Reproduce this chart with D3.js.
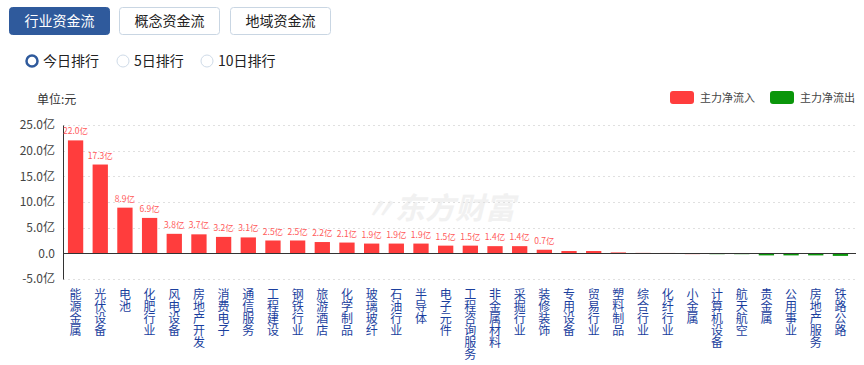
<!DOCTYPE html>
<html>
<head>
<meta charset="utf-8">
<script src="https://cdn.jsdelivr.net/npm/d3@7"></script>
<style>
  body { margin: 0; background: #fff; font-family: "Microsoft YaHei", "Noto Sans CJK SC", sans-serif; }
  svg text { font-family: "Noto Sans CJK SC", sans-serif; }
</style>
</head>
<body>
<div id="chart"></div>
<script>
// sector names and main-force net flow (亿元)
const categories = ["能源金属", "光伏设备", "电池", "化肥行业", "风电设备", "房地产开发", "消费电子", "通信服务",
  "工程建设", "钢铁行业", "旅游酒店", "化学制品", "玻璃玻纤", "石油行业", "半导体", "电子元件", "工程咨询服务",
  "非金属材料", "采掘行业", "装修装饰", "专用设备", "贸易行业", "塑料制品", "综合行业", "化纤行业", "小金属",
  "计算机设备", "航天航空", "贵金属", "公用事业", "房地产服务", "铁路公路"];
const values = [22.0, 17.3, 8.9, 6.9, 3.8, 3.7, 3.2, 3.1, 2.5, 2.5, 2.2, 2.1, 1.9, 1.9, 1.9, 1.5, 1.5, 1.4, 1.4, 0.7,
  0.45, 0.45, 0.25, 0.1, 0.08, 0.02, -0.02, -0.05, -0.4, -0.4, -0.4, -0.5];
const yTicks = [-5, 0, 5, 10, 15, 20, 25];
const tabs = ["行业资金流", "概念资金流", "地域资金流"];
const rankings = ["今日排行", "5日排行", "10日排行"];
const legendItems = ["主力净流入", "主力净流出"];

const width = 864, height = 365;
const red = "#ff3d3d", green = "#0a960a";

const svg = d3.select("#chart").append("svg")
    .attr("width", width)
    .attr("height", height);

// Tabs
const tabX = [9, 119, 230];
tabs.forEach(function(t, i) {
  const g = svg.append("g").attr("transform", "translate(" + tabX[i] + ",7)");
  g.append("rect")
    .attr("x", 0.5).attr("y", 0.5)
    .attr("width", 100).attr("height", 27)
    .attr("rx", 3)
    .attr("fill", i === 0 ? "#2f5a9c" : "#fff")
    .attr("stroke", i === 0 ? "#2f5a9c" : "#c9d6e3");
  g.append("text")
    .attr("x", 50.5).attr("y", 19)
    .attr("text-anchor", "middle")
    .style("font-size", "14px")
    .attr("fill", i === 0 ? "#fff" : "#222")
    .text(t);
});

// Radio buttons
const radioX = [32, 123, 207];
rankings.forEach(function(r, i) {
  if (i === 0) {
    svg.append("circle").attr("cx", radioX[i]).attr("cy", 61).attr("r", 5.5)
      .attr("fill", "#fff").attr("stroke", "#2f5a9c").attr("stroke-width", 2.5);
  } else {
    svg.append("circle").attr("cx", radioX[i]).attr("cy", 61).attr("r", 6)
      .attr("fill", "#fff").attr("stroke", "#cfdbe8").attr("stroke-width", 1);
  }
  svg.append("text")
    .attr("x", radioX[i] + 11).attr("y", 66)
    .style("font-size", "14px")
    .attr("fill", "#222")
    .text(r);
});

// Chart area
const margin = { left: 63, right: 11, top: 125, bottom: 86 };
const x = d3.scaleBand()
    .domain(categories)
    .range([margin.left, width - margin.right])
    .paddingInner(0.38)
    .paddingOuter(0.2);
const y = d3.scaleLinear()
    .domain([-5, 25])
    .range([279, 125]);

// Watermark
svg.append("text")
  .attr("x", 440).attr("y", 219)
  .attr("text-anchor", "middle")
  .style("font-size", "30px")
  .style("font-weight", "bold")
  .style("font-style", "italic")
  .attr("fill", "#f1f1f1")
  .text("〃东方财富");

// Grid
svg.append("g")
  .selectAll("line")
  .data(yTicks.filter(d => d !== 0))
  .enter().append("line")
    .attr("x1", margin.left).attr("x2", width - 8)
    .attr("y1", d => Math.round(y(d)) + 0.5)
    .attr("y2", d => Math.round(y(d)) + 0.5)
    .attr("stroke", "#e0e0e0")
    .attr("stroke-dasharray", "2,3");

// Y axis
const yAxis = svg.append("g")
  .attr("transform", "translate(" + margin.left + ",0)")
  .call(d3.axisLeft(y).tickValues(yTicks).tickSize(0).tickPadding(8)
    .tickFormat(d => d === 0 ? "0.0" : d.toFixed(1) + "亿"));
yAxis.select(".domain").attr("stroke", "#333");
yAxis.selectAll("text").style("font-size", "12px").attr("fill", "#444");

svg.append("text")
  .attr("x", 37).attr("y", 104)
  .style("font-size", "12px")
  .attr("fill", "#333")
  .text("单位:元");

// Bars
svg.append("g")
  .selectAll("rect")
  .data(values)
  .enter().append("rect")
    .attr("x", (d, i) => x(categories[i]))
    .attr("y", d => y(Math.max(d, 0)))
    .attr("width", x.bandwidth())
    .attr("height", d => Math.max(Math.abs(y(d) - y(0)), 1))
    .attr("fill", d => d >= 0 ? red : green)
    .attr("opacity", d => Math.abs(d) < 0.3 ? 0.6 : 1);

// Zero line
svg.append("line")
  .attr("x1", margin.left).attr("x2", width - 8)
  .attr("y1", Math.round(y(0)) + 0.5).attr("y2", Math.round(y(0)) + 0.5)
  .attr("stroke", "#333");

// Value labels
svg.append("g")
  .selectAll("text")
  .data(values.slice(0, 20))
  .enter().append("text")
    .attr("x", (d, i) => x(categories[i]) + x.bandwidth() / 2)
    .attr("y", d => y(d) - 6)
    .attr("text-anchor", "middle")
    .style("font-size", "8.5px")
    .attr("fill", "#ff5a5a")
    .text(d => d.toFixed(1) + "亿");

// Category labels (vertical text)
svg.append("g")
  .selectAll("text")
  .data(categories)
  .enter().append("text")
    .attr("x", d => x(d) + x.bandwidth() / 2)
    .attr("y", 288)
    .style("writing-mode", "vertical-rl")
    .style("font-size", "12px")
    .attr("fill", "#1b3f9e")
    .text(d => d);

// Legend
const legX = [670, 770];
legendItems.forEach(function(l, i) {
  svg.append("rect")
    .attr("x", legX[i]).attr("y", 91)
    .attr("width", 24).attr("height", 13)
    .attr("rx", 3)
    .attr("fill", i === 0 ? red : green);
  svg.append("text")
    .attr("x", legX[i] + 30).attr("y", 102)
    .style("font-size", "11px")
    .attr("fill", "#444")
    .text(l);
});
</script>
</body>
</html>
